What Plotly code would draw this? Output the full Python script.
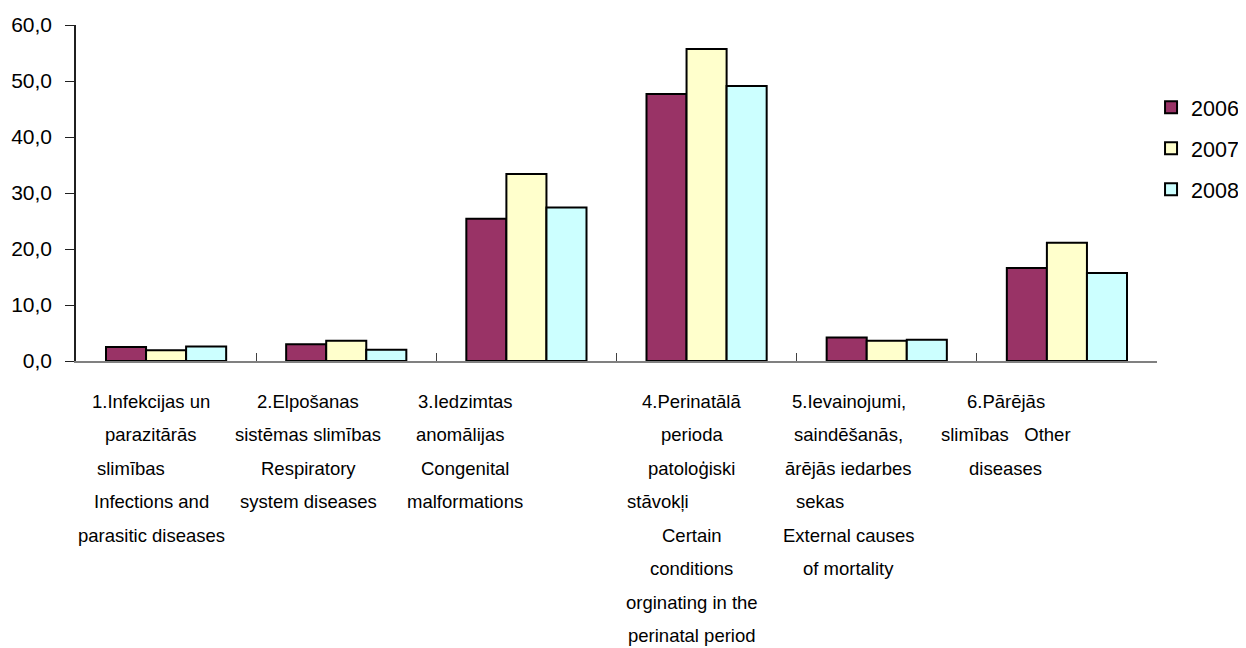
import plotly.graph_objects as go

# Datos
categorias = ["1.Infekcijas", "2.Elpošanas", "3.Iedzimtas", "4.Perinatālā", "5.Ievainojumi", "6.Pārējās"]
anios = ["2006", "2007", "2008"]
valores_2006 = [2.5, 3.0, 25.4, 47.7, 4.2, 16.6]
valores_2007 = [1.9, 3.6, 33.4, 55.7, 3.6, 21.1]
valores_2008 = [2.6, 2.0, 27.4, 49.1, 3.8, 15.7]

NBSP = "\u00a0"
etiquetas = [
    ["1.Infekcijas un", "parazitārās", "slimības" + NBSP * 8, "Infections and", "parasitic diseases"],
    ["2.Elpošanas", "sistēmas slimības", "Respiratory", "system diseases"],
    ["3.Iedzimtas", "anomālijas" + NBSP * 2, "Congenital", "malformations"],
    ["4.Perinatālā", "perioda", "patoloģiski", "stāvokļi" + NBSP * 13, "Certain",
     "conditions", "orginating in the", "perinatal period"],
    ["5.Ievainojumi,", "saindēšanās,", "ārējās iedarbes", "sekas" + NBSP * 11,
     "External causes", "of mortality"],
    ["6.Pārējās", "slimības" + NBSP * 3 + "Other", "diseases"],
]

colores = ["#993366", "#FFFFCC", "#CCFFFF"]
desplaz_x = [-15, -38, -61, -15, -38, -61]

fig = go.Figure()
for anio, valores, color in zip(anios, [valores_2006, valores_2007, valores_2008], colores):
    fig.add_trace(go.Bar(
        x=categorias, y=valores,
        name=anio, legendgroup=anio,
        marker=dict(color=color, line=dict(color="black", width=2)),
    ))

# Etiquetas de categoria, una anotacion por linea
for cat, lineas, dx in zip(categorias, etiquetas, desplaz_x):
    for i, linea in enumerate(lineas):
        fig.add_annotation(
            x=cat, y=0, xref="x", yref="y",
            text=linea, showarrow=False,
            xanchor="center", yanchor="middle",
            xshift=dx, yshift=-(40 + 33.5 * i),
            font=dict(family="Liberation Sans, Arial", size=18.5, color="black"),
        )

# la pagina tiene 8 px de margen en el body: area de trazado 68..1149 px (en la figura)
# margen derecho 0 para que la leyenda no empuje el area de trazado
fig.update_layout(
    width=1246, height=648,
    margin=dict(l=68, r=0, t=17, b=295),
    paper_bgcolor="white", plot_bgcolor="white",
    separators=", ",
    bargap=0.333, bargroupgap=0,
    font=dict(family="Liberation Sans, Arial", size=21, color="black"),
    legend=dict(
        x=0.9126, xanchor="left", y=0.816, yanchor="top",
        font=dict(size=21.5), tracegroupgap=10, traceorder="grouped",
        bgcolor="rgba(0,0,0,0)",
    ),
    xaxis=dict(
        type="category", range=[-0.5, 5.5], domain=[0, 1081 / 1178],
        automargin=False,
        showticklabels=False, showline=True, linecolor="#808080", linewidth=1.5,
        ticks="inside", tickson="boundaries", ticklen=8, tickcolor="#404040",
        showgrid=False, zeroline=False,
    ),
    yaxis=dict(
        range=[0, 60], dtick=10, tickformat=".1f",
        automargin=False, ticklabelstandoff=9,
        showline=True, linecolor="#202020", linewidth=1.5,
        ticks="outside", ticklen=9, tickcolor="#202020",
        showgrid=False, zeroline=False,
    ),
)

fig.write_html("out.html")
